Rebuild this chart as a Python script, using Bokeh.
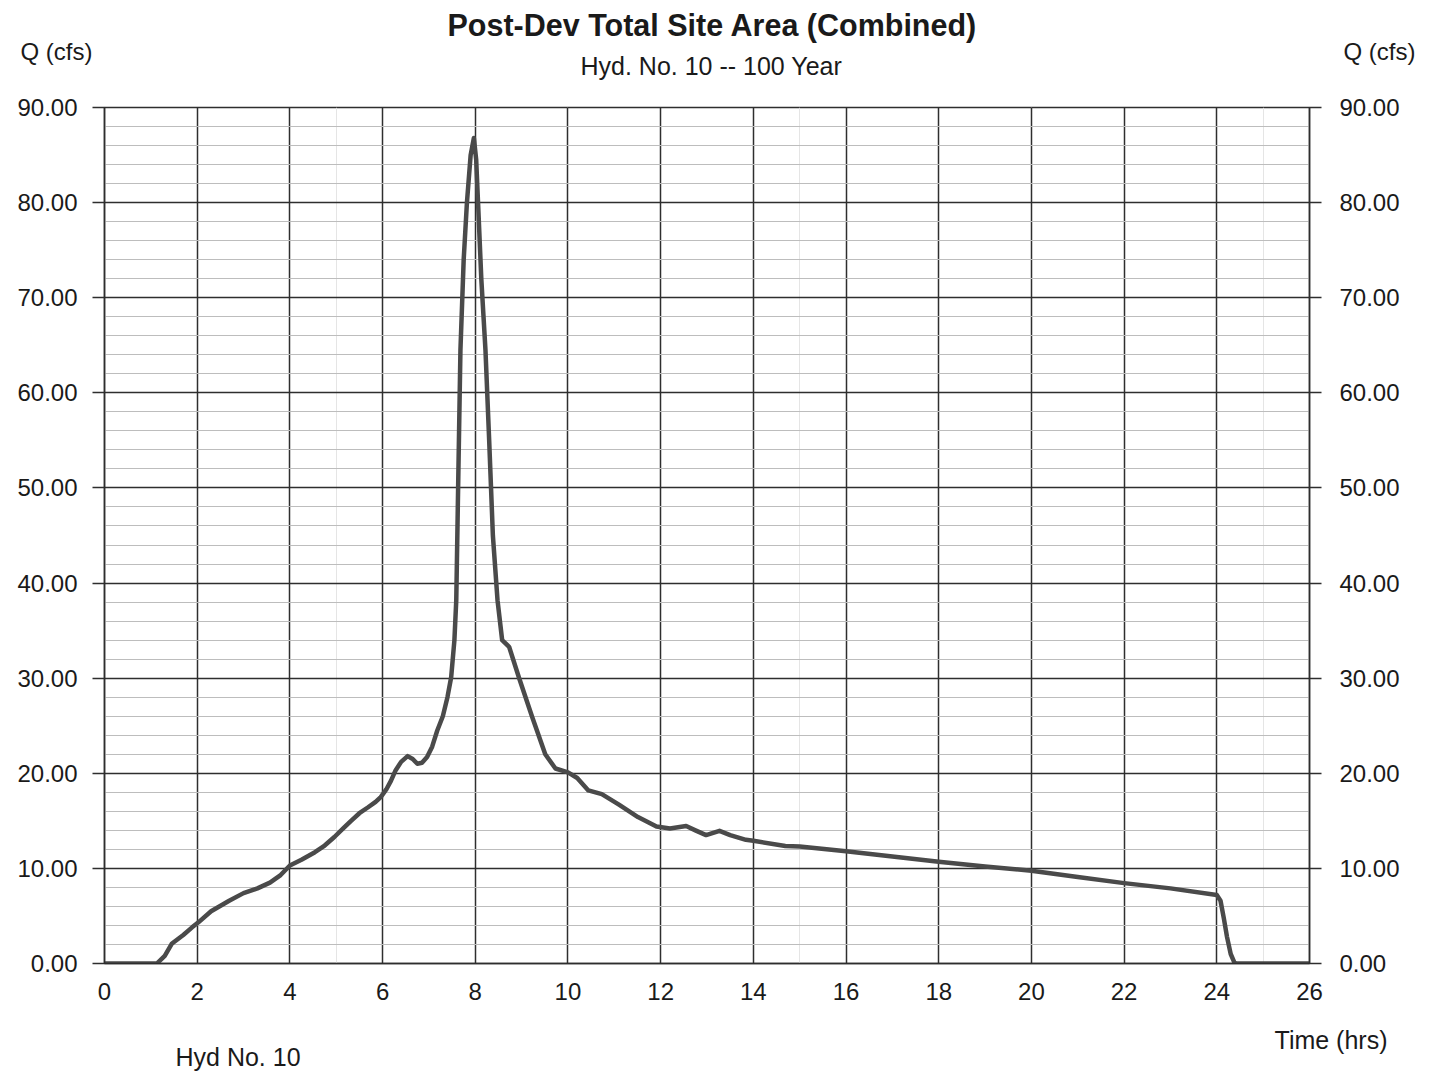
from bokeh.plotting import figure
from bokeh.models import (Range1d, LinearAxis, FixedTicker, NumeralTickFormatter,
                          Grid, Title)
from bokeh.embed import file_html
from bokeh.resources import INLINE

time_hrs = [0.0, 1.13, 1.3, 1.45, 1.7, 1.89, 2.02, 2.3, 2.69, 3.0, 3.3, 3.57, 3.8, 4.0,
            4.25, 4.54, 4.75, 4.96, 5.15, 5.32, 5.5, 5.68, 5.85, 5.96, 6.08, 6.18, 6.28,
            6.4, 6.54, 6.65, 6.75, 6.85, 6.96, 7.07, 7.18, 7.3, 7.4, 7.48, 7.55, 7.59,
            7.63, 7.68, 7.75, 7.82, 7.9, 7.97, 8.02, 8.06, 8.13, 8.22, 8.3, 8.38, 8.48,
            8.58, 8.73, 8.94, 9.23, 9.51, 9.73, 10.0, 10.2, 10.44, 10.73, 11.1, 11.51,
            11.91, 12.2, 12.55, 12.75, 12.98, 13.27, 13.5, 13.84, 14.0, 14.69, 15.0, 16.0,
            17.0, 18.0, 19.0, 20.0, 21.0, 22.0, 23.0, 24.0, 24.08, 24.15, 24.22, 24.3,
            24.38, 24.42, 26.0]
flow_cfs = [0.0, 0.0, 0.8, 2.07, 3.0, 3.8, 4.3, 5.5, 6.6, 7.4, 7.9, 8.5, 9.3, 10.3,
            10.9, 11.7, 12.4, 13.3, 14.2, 15.0, 15.8, 16.4, 17.0, 17.5, 18.3, 19.2, 20.3,
            21.2, 21.8, 21.5, 21.0, 21.1, 21.7, 22.8, 24.5, 26.0, 28.0, 30.1, 34.0, 38.2,
            50.0, 64.5, 74.0, 80.0, 85.0, 86.8, 84.5, 80.0, 72.0, 64.5, 55.0, 45.0, 38.2,
            34.0, 33.3, 30.1, 25.9, 22.0, 20.5, 20.1, 19.5, 18.2, 17.8, 16.7, 15.4,
            14.4, 14.2, 14.45, 14.0, 13.5, 13.95, 13.5, 13.0, 12.9, 12.35, 12.3, 11.8,
            11.25, 10.7, 10.2, 9.75, 9.1, 8.45, 7.9, 7.2, 6.6, 4.8, 2.8, 1.0,
            0.1, 0.0, 0.0]

x_ticks = list(range(0, 27, 2))
y_ticks = list(range(0, 91, 10))
y_minor = [v for v in range(0, 91, 2)]

title_text = "Post-Dev Total Site Area (Combined)"
subtitle_text = "Hyd. No. 10 -- 100 Year"
legend_text = "Hyd No. 10"
y_label = "Q (cfs)"
x_label = "Time (hrs)"

FONT = "Liberation Sans"
GRID = "#2e2e2e"
LINE = "#4a4a4a"
TXT = "#1a1a1a"

p = figure(width=1434, height=1072, output_backend="svg", toolbar_location=None,
           frame_width=1205, frame_height=856,
           x_range=Range1d(0, 26), y_range=Range1d(0, 90),
           min_border_left=104, min_border_right=125, min_border_top=107,
           min_border_bottom=109, x_axis_location=None, y_axis_location=None,
           background_fill_color="white", border_fill_color="white")
p.outline_line_color = GRID
p.outline_line_width = 1.5

# ---- axes ----
bottom = LinearAxis(ticker=FixedTicker(ticks=x_ticks))
left = LinearAxis(ticker=FixedTicker(ticks=y_ticks), formatter=NumeralTickFormatter(format="0.00"))
right = LinearAxis(ticker=FixedTicker(ticks=y_ticks), formatter=NumeralTickFormatter(format="0.00"))
for ax in (bottom, left, right):
    ax.axis_line_color = GRID
    ax.axis_line_width = 1.5
    ax.major_tick_line_color = GRID
    ax.major_tick_line_width = 1.5
    ax.minor_tick_line_color = None
    ax.major_tick_in = 0
    ax.major_label_text_font = FONT
    ax.major_label_text_font_size = "24px"
    ax.major_label_text_color = TXT
bottom.major_tick_out = 0
bottom.major_label_standoff = 19
left.major_tick_out = 12
left.major_label_standoff = 15
right.major_tick_out = 12
right.major_label_standoff = 18
p.add_layout(bottom, "below")
p.add_layout(left, "left")
p.add_layout(right, "right")

# ---- grids ----
xg = Grid(dimension=0, ticker=FixedTicker(ticks=x_ticks), grid_line_color=GRID, grid_line_width=1.5)
yg = Grid(dimension=1, ticker=FixedTicker(ticks=y_ticks, minor_ticks=y_minor),
          grid_line_color=GRID, grid_line_width=1.5,
          minor_grid_line_color="#bdbdbd", minor_grid_line_width=1)
p.add_layout(xg)
p.add_layout(yg)

# ---- hydrograph ----
r = p.line(time_hrs, flow_cfs, line_color=LINE, line_width=4.5, line_join="round")

def title(text, size, style, align, valign, standoff, offset, place):
    p.add_layout(Title(text=text, align=align, vertical_align=valign, standoff=standoff,
                       offset=offset, text_font=FONT, text_font_size=size,
                       text_font_style=style, text_color=TXT), place)

# ---- top panel (first added sits nearest the frame) ----
title(subtitle_text, "25px", "normal", "left", "bottom", 56, 476, "above")
title(title_text, "30.5px", "bold", "left", "bottom", -40, 343, "above")
title(y_label, "24px", "normal", "left", "bottom", -87, -84, "above")
title(y_label, "24px", "normal", "right", "bottom", -87, -106, "above")

# ---- bottom panel: time label and the series name ----
title(x_label, "25px", "normal", "right", "bottom", -102, -78, "below")
title(legend_text, "25px", "normal", "left", "bottom", -136, 71, "below")

open("out.html", "w").write(file_html(p, INLINE))
